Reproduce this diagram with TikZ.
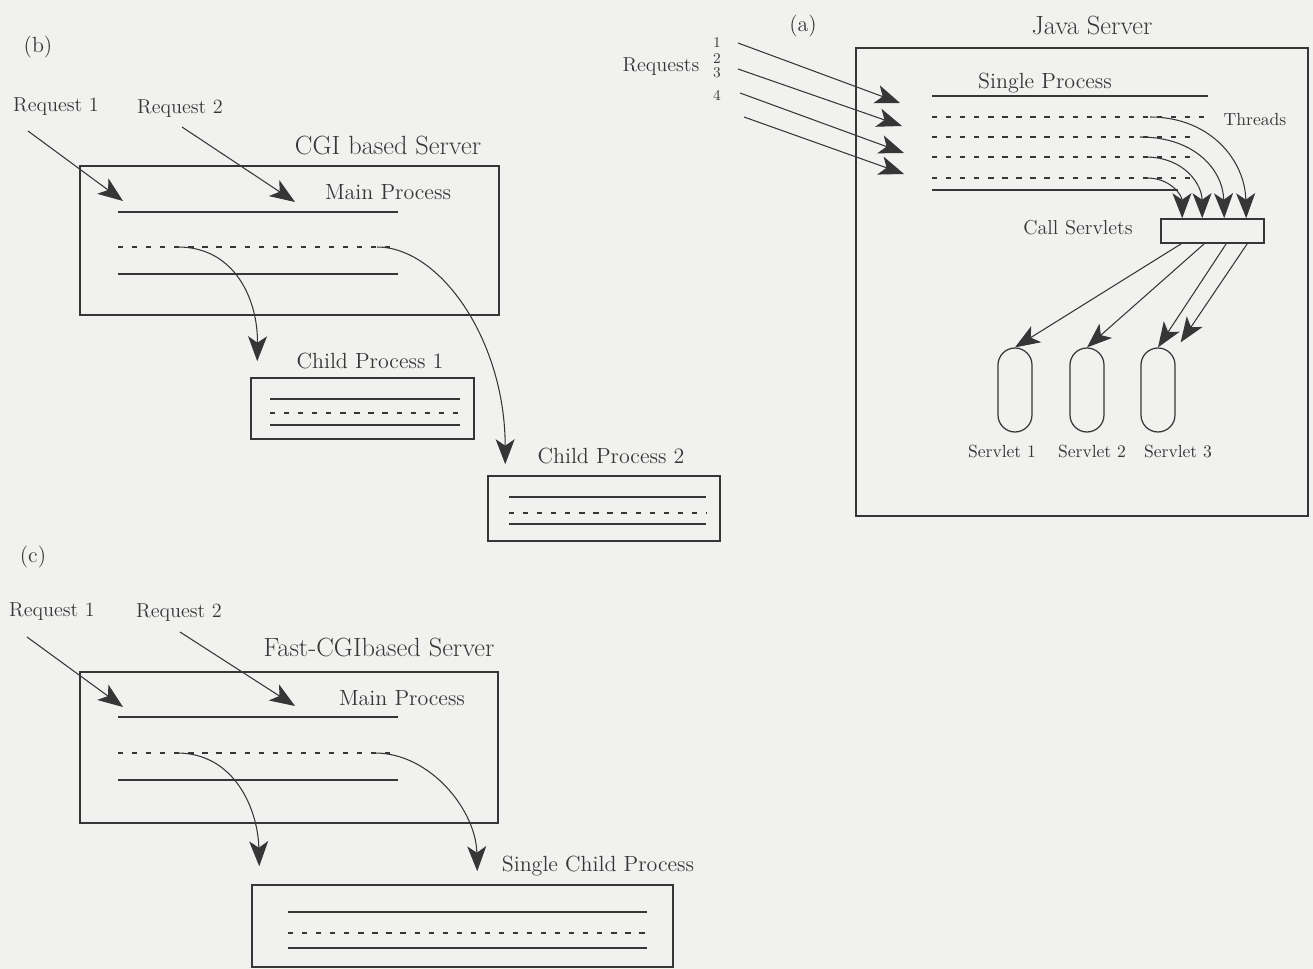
\documentclass[tikz,border=0pt]{standalone}
\usetikzlibrary{arrows.meta, positioning, calc}
\definecolor{bgPaper}{HTML}{F1F1F0}
\definecolor{inkLine}{HTML}{363636}

\begin{document}
\begin{tikzpicture}[
    % Global Styles
    x=0.02cm, y=-0.02cm,
    color=inkLine,
    line width=0.7pt,
    % Text Styles
    serverName/.style={font=\fontsize{15}{17}\selectfont, inner sep=0pt},
    procName/.style={font=\fontsize{12.5}{14}\selectfont, inner sep=0pt},
    reqName/.style={font=\fontsize{11.5}{13}\selectfont, inner sep=0pt},
    tagName/.style={font=\fontsize{10}{11}\selectfont, inner sep=0pt},
    numName/.style={font=\fontsize{8.5}{9}\selectfont, inner sep=0pt},
    % Shape Styles
    procbox/.style={
        rectangle,
        draw,
        line width=0.9pt,
        inner sep=0pt
    },
    servlet/.style={
        rectangle,
        rounded corners=0.34cm,
        draw,
        minimum width=0.68cm,
        minimum height=1.68cm,
        inner sep=0pt
    },
    % Line Styles
    thread/.style={dash pattern=on 3pt off 5pt, line width=0.8pt},
    arrow/.style={
        -{Stealth[length=5mm, width=3.8mm, inset=1.3mm]},
        line width=0.6pt
    }
]

    \useasboundingbox (0,0) rectangle (1313,969);
    \fill[bgPaper] (0,0) rectangle (1313,969);

    % --- (b) CGI based Server ---

    \node[procName] (tagB) at (38,47) {(b)};
    \node[reqName] (cgiReq1) at (56,107) {Request 1};
    \node[reqName] (cgiReq2) at (180,109) {Request 2};
    \node[serverName] (cgiTitle) at (388,146) {CGI based Server};

    \node[procbox, minimum width=8.38cm, minimum height=2.98cm] (cgiMain) at (289.5,240.5) {};
    \node[procName] (cgiMainLbl) at (388,192) {Main Process};

    \node[procbox, minimum width=4.46cm, minimum height=1.22cm] (child1) at (362.5,408.5) {};
    \node[procName] (child1Lbl) at (370,361) {Child Process 1};

    \node[procbox, minimum width=4.64cm, minimum height=1.30cm] (child2) at (604,508.5) {};
    \node[procName] (child2Lbl) at (611,456) {Child Process 2};

    % process lines
    \draw (118,212) -- (398,212);
    \draw[thread] (118,247) -- (398,247);
    \draw (118,274) -- (398,274);
    \draw (270,399) -- (460,399);
    \draw[thread] (270,413) -- (460,413);
    \draw (270,425) -- (460,425);
    \draw (509,497) -- (706,497);
    \draw[thread] (509,513) -- (706,513);
    \draw (509,524) -- (706,524);

    \coordinate (cgiFrom1) at (28,131);
    \coordinate (cgiTo1) at (123,201);
    \coordinate (cgiFrom2) at (182,127);
    \coordinate (cgiTo2) at (295,202);
    \coordinate (cgiFork1) at (178,247);
    \coordinate (cgiFork2) at (377,247);

    \draw[arrow] (cgiFrom1) -- (cgiTo1);
    \draw[arrow] (cgiFrom2) -- (cgiTo2);
    \draw[arrow] (cgiFork1) .. controls (235,247) and (258,300) .. ($(child1.north west)+(7,-16)$);
    \draw[arrow] (cgiFork2) .. controls (440,247) and (505,340) .. ($(child2.north west)+(18,-11)$);

    % --- (a) Java Server ---

    \node[procName] (tagA) at (803,26) {(a)};
    \node[serverName] (javaTitle) at (1092,26) {Java Server};
    \node[procbox, minimum width=9.04cm, minimum height=9.36cm] (javaBox) at (1082,282) {};
    \node[procName] (singleLbl) at (1045,83) {Single Process};
    \node[tagName] (threadsLbl) at (1255,120) {Threads};

    \node[reqName] (javaReq) at (661,67) {Requests};
    \node[numName] (num1) at (717,43) {1};
    \node[numName] (num2) at (717,59) {2};
    \node[numName] (num3) at (717,73) {3};
    \node[numName] (num4) at (717,95) {4};

    \draw (932,96) -- (1208,96);
    \draw[thread] (932,117) -- (1208,117);
    \foreach \y in {137,157,178}
        \draw[thread] (932,\y) -- (1196,\y);
    \draw (932,190) -- (1178,190);

    \node[procbox, minimum width=2.06cm, minimum height=0.48cm] (callBox) at (1212.5,231) {};
    \node[reqName] (callLbl) at (1078,228) {Call Servlets};

    \node[servlet] (servlet1) at (1015,390) {};
    \node[servlet] (servlet2) at (1087,390) {};
    \node[servlet] (servlet3) at (1158,390) {};
    \node[tagName] (servlet1Lbl) at (1002,452) {Servlet 1};
    \node[tagName] (servlet2Lbl) at (1092,452) {Servlet 2};
    \node[tagName] (servlet3Lbl) at (1178,452) {Servlet 3};

    % incoming requests
    \foreach \i/\xa/\ya/\xb/\yb in {1/738/43/900/103, 2/738/69/902/126, 3/740/93/904/153, 4/744/117/904/174} {
        \coordinate (reqFrom\i) at (\xa,\ya);
        \coordinate (reqTo\i) at (\xb,\yb);
        \draw[arrow] (reqFrom\i) -- (reqTo\i);
    }

    % threads to call servlets
    \coordinate (thread1) at (1150,117);
    \coordinate (thread2) at (1140,137);
    \coordinate (thread3) at (1145,157);
    \coordinate (thread4) at (1147,178);
    \draw[arrow] (thread1) .. controls (1210,117) and (1245,160) .. ($(callBox.north west)+(86,0)$);
    \draw[arrow] (thread2) .. controls (1195,137) and (1223,170) .. ($(callBox.north west)+(64,0)$);
    \draw[arrow] (thread3) .. controls (1185,157) and (1202,185) .. ($(callBox.north west)+(42,0)$);
    \draw[arrow] (thread4) .. controls (1170,178) and (1182,195) .. ($(callBox.north west)+(22,0)$);

    % call servlets to servlets
    \draw[arrow] ($(callBox.south west)+(21,0)$) -- (servlet1.north);
    \draw[arrow] ($(callBox.south west)+(44,0)$) -- (servlet2.north);
    \draw[arrow] ($(callBox.south west)+(66,0)$) -- (servlet3.north);
    \draw[arrow] ($(callBox.south west)+(87,0)$) -- ([xshift=0.1cm, yshift=0.1cm]servlet3.north east);

    % --- (c) Fast-CGI based Server ---

    \node[procName] (tagC) at (33,557) {(c)};
    \node[reqName] (fastReq1) at (52,612) {Request 1};
    \node[reqName] (fastReq2) at (179,613) {Request 2};
    \node[serverName] (fastTitle) at (379,648) {Fast-CGIbased Server};

    \node[procbox, minimum width=8.36cm, minimum height=3.02cm] (fastMain) at (289,747.5) {};
    \node[procName] (fastMainLbl) at (402,698) {Main Process};

    \node[procbox, minimum width=8.42cm, minimum height=1.64cm] (fastChild) at (462.5,926) {};
    \node[procName] (fastChildLbl) at (598,866) {Single Child Process};

    \draw (118,717) -- (398,717);
    \draw[thread] (118,753) -- (398,753);
    \draw (118,780) -- (398,780);
    \draw (288,912) -- (647,912);
    \draw[thread] (288,933) -- (647,933);
    \draw (288,948) -- (647,948);

    \coordinate (fastFrom1) at (27,637);
    \coordinate (fastTo1) at (123,707);
    \coordinate (fastFrom2) at (180,632);
    \coordinate (fastTo2) at (295,706);
    \coordinate (fastFork1) at (177,753);
    \coordinate (fastFork2) at (375,753);

    \draw[arrow] (fastFrom1) -- (fastTo1);
    \draw[arrow] (fastFrom2) -- (fastTo2);
    \draw[arrow] (fastFork1) .. controls (235,753) and (258,810) .. ($(fastChild.north west)+(8,-18)$);
    \draw[arrow] (fastFork2) .. controls (430,753) and (476,810) .. ($(fastChild.north west)+(226,-13)$);

\end{tikzpicture}
\end{document}
